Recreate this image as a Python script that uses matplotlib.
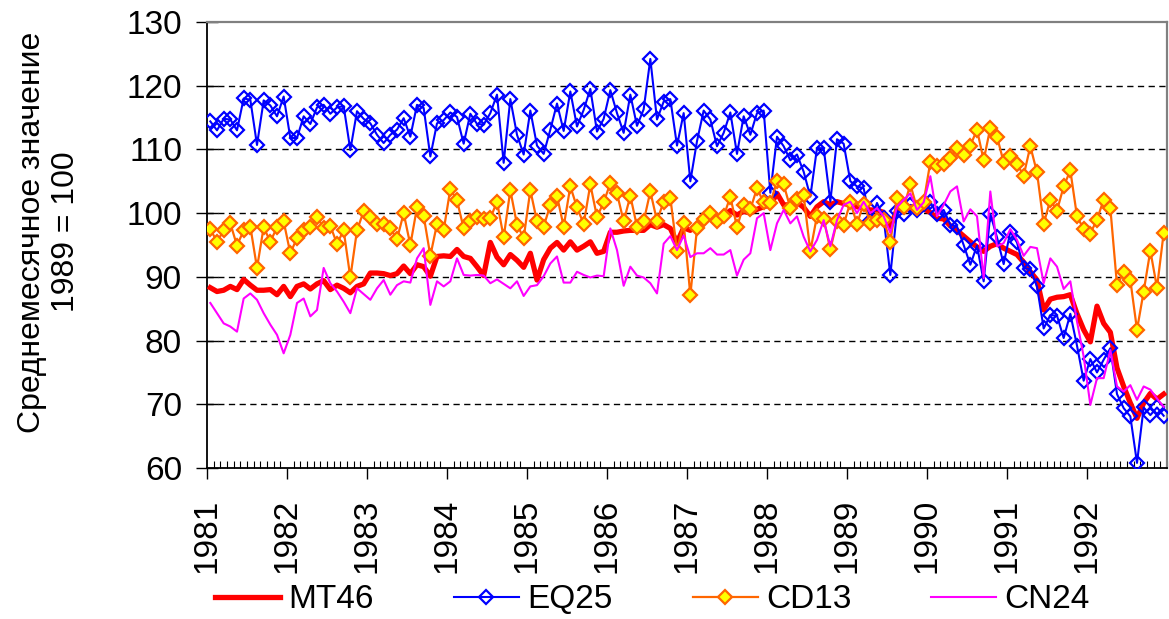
import matplotlib
matplotlib.use("Agg")
import matplotlib.pyplot as plt
import numpy as np

plt.rcParams['font.family'] = ['Liberation Sans', 'DejaVu Sans']

years = ["1981", "1982", "1983", "1984", "1985", "1986", "1987", "1988",
         "1989", "1990", "1991", "1992"]
y_ticks = [60, 70, 80, 90, 100, 110, 120, 130]

mt46 = [88.3, 87.7, 87.9, 88.5, 88.0, 89.6, 88.7, 87.9, 87.9, 88.0, 87.2, 88.5,
        86.9, 88.5, 88.9, 88.1, 88.9, 89.4, 88.0, 88.7, 88.2, 87.5, 88.5, 88.9,
        90.6, 90.6, 90.5, 90.2, 90.5, 91.7, 90.5, 91.9, 91.6, 90.1, 93.2, 93.3,
        93.2, 94.3, 93.2, 92.9, 91.6, 90.2, 95.4, 93.1, 91.9, 93.5, 92.6, 91.5,
        93.7, 89.5, 92.7, 94.5, 95.4, 94.2, 95.5, 94.2, 94.8, 95.5, 93.7, 94.0,
        97.0, 97.0, 97.2, 97.3, 97.3, 97.3, 98.2, 97.8, 98.2, 97.6, 95.4, 97.7,
        97.3, 98.3, 99.1, 99.7, 98.9, 99.6, 100.4, 99.7, 100.3, 100.0, 100.6, 101.0,
        101.3, 103.1, 101.3, 101.3, 101.7, 100.9, 99.5, 101.0, 101.8, 101.3, 101.8, 101.5,
        101.3, 101.0, 100.8, 100.5, 100.5, 100.1, 97.9, 100.5, 100.6, 101.0, 100.8, 100.7,
        100.1, 99.2, 99.1, 98.0, 97.3, 96.4, 95.5, 94.7, 94.0, 94.8, 95.2, 94.5,
        94.0, 93.5, 92.3, 90.8, 89.5, 84.8, 86.5, 86.8, 86.9, 87.2, 84.2, 81.7,
        79.8, 85.4, 82.7, 81.3, 75.7, 72.8, 70.2, 67.8, 70.2, 71.7, 70.8, 71.6]

eq25 = [114.4, 113.0, 114.8, 114.7, 113.0, 118.0, 117.8, 110.7, 117.7, 116.9, 115.2, 118.3,
        111.8, 111.8, 115.2, 114.0, 116.6, 117.0, 115.6, 116.6, 116.8, 109.9, 116.0, 114.8,
        114.1, 112.3, 111.0, 112.3, 113.1, 114.9, 112.0, 117.0, 116.5, 108.9, 114.1, 114.6,
        115.8, 115.1, 110.9, 115.6, 114.0, 113.9, 115.7, 118.6, 107.9, 117.9, 112.3, 109.2,
        116.1, 110.6, 109.3, 113.1, 117.2, 112.9, 119.1, 113.6, 116.2, 119.5, 112.8, 114.8,
        119.3, 115.7, 112.6, 118.6, 113.7, 116.3, 124.2, 114.7, 117.5, 117.9, 110.6, 115.7,
        105.0, 111.3, 116.1, 114.7, 110.5, 112.6, 115.8, 109.3, 115.2, 112.3, 115.7, 116.1,
        103.2, 112.0, 110.5, 108.3, 109.2, 106.5, 102.6, 110.2, 110.2, 101.8, 111.6, 110.9,
        105.0, 104.2, 103.9, 98.7, 101.6, 99.2, 90.3, 100.3, 99.9, 101.3, 100.5, 101.4,
        101.7, 99.9, 100.5, 98.2, 97.9, 95.0, 91.9, 94.9, 89.3, 99.9, 96.2, 92.0,
        97.1, 95.4, 91.4, 91.2, 88.5, 81.9, 84.0, 83.9, 80.4, 84.2, 79.2, 73.7,
        77.1, 75.0, 77.0, 78.8, 71.6, 69.4, 68.1, 60.8, 69.5, 68.3, 69.5, 68.2]

cd13 = [97.5, 95.5, 97.3, 98.4, 94.9, 97.3, 97.9, 91.4, 97.8, 95.5, 97.8, 98.7,
        93.7, 96.1, 97.4, 97.9, 99.4, 97.7, 98.0, 95.2, 97.3, 89.9, 97.3, 100.3,
        99.4, 98.3, 98.3, 97.6, 95.9, 100.0, 95.0, 100.9, 99.6, 93.3, 98.3, 97.3,
        103.8, 102.0, 97.6, 98.7, 99.4, 99.1, 99.2, 101.8, 96.2, 103.6, 98.2, 96.1,
        103.6, 98.7, 97.9, 101.3, 102.7, 97.9, 104.2, 100.9, 98.3, 104.5, 99.4, 101.7,
        104.7, 103.1, 98.7, 102.7, 97.9, 98.7, 103.4, 98.8, 101.8, 102.4, 94.1, 98.5,
        87.1, 97.6, 99.1, 100.0, 98.7, 99.5, 102.6, 97.8, 101.3, 100.6, 103.9, 101.7,
        101.6, 105.0, 104.5, 100.8, 102.2, 102.8, 94.0, 99.6, 99.1, 94.3, 98.7, 98.2,
        101.7, 98.3, 101.5, 98.5, 98.9, 98.9, 95.5, 102.4, 100.9, 104.5, 100.8, 101.8,
        108.0, 107.4, 107.7, 108.6, 110.2, 109.2, 110.6, 113.1, 108.3, 113.4, 112.0, 108.0,
        108.9, 107.7, 105.9, 110.5, 106.4, 98.3, 102.1, 100.4, 104.2, 106.7, 99.5, 97.5,
        96.8, 99.0, 102.1, 100.8, 88.7, 90.7, 89.5, 81.7, 87.7, 94.1, 88.3, 96.9]

cn24 = [85.9, 84.3, 82.7, 82.2, 81.4, 86.6, 87.4, 86.4, 84.3, 82.5, 80.9, 78.0,
        80.9, 85.9, 86.6, 83.8, 84.8, 91.4, 89.0, 87.7, 86.1, 84.3, 88.2, 87.3,
        86.4, 88.2, 89.5, 87.2, 88.7, 89.3, 89.1, 92.9, 94.5, 85.6, 89.3, 88.5,
        89.3, 92.9, 90.3, 90.2, 90.3, 90.2, 89.0, 89.6, 88.9, 88.2, 89.3, 87.0,
        88.5, 88.7, 90.1, 92.1, 93.2, 89.1, 89.1, 90.8, 90.3, 89.9, 90.2, 90.1,
        97.6, 94.2, 88.6, 91.6, 90.2, 89.9, 89.0, 87.4, 95.2, 96.4, 94.2, 96.5,
        93.1, 93.7, 93.7, 94.5, 93.5, 93.5, 94.2, 90.2, 92.7, 93.7, 99.2, 100.0,
        94.2, 98.4, 100.5, 98.4, 99.5, 96.3, 94.0, 95.8, 98.9, 94.8, 98.9, 101.3,
        101.8, 100.0, 101.8, 100.0, 100.8, 99.5, 96.9, 101.0, 102.1, 103.1, 100.5, 101.7,
        105.8, 99.5, 101.3, 103.4, 104.2, 98.7, 100.6, 99.5, 89.8, 103.4, 94.8, 95.3,
        97.5, 95.8, 93.3, 94.7, 94.5, 89.0, 92.9, 91.6, 88.1, 89.3, 83.0, 77.5,
        69.9, 74.1, 74.1, 78.5, 72.8, 72.0, 73.0, 70.7, 72.8, 72.3, 70.9, 69.6]

n = len(mt46)
x = np.arange(n) + 0.5

fig = plt.figure(figsize=(11.69, 6.19), dpi=100)
ax = fig.add_axes([207 / 1169, 1 - 468 / 619, (1167 - 207) / 1169, (468 - 22) / 619])

ax.plot(x, mt46, color='#FF0000', lw=3.8, label='MT46', zorder=3,
        solid_joinstyle='round')
ax.plot(x, eq25, color='#0000FF', lw=1.5, marker='D', ms=7, mfc='none',
        mec='#0000FF', mew=1.6, label='EQ25', zorder=4)
ax.plot(x, cd13, color='#FF6600', lw=1.6, marker='D', ms=7.5, mfc='#FFFF00',
        mec='#FF6600', mew=1.6, label='CD13', zorder=5)
ax.plot(x, cn24, color='#FF00FF', lw=1.5, label='CN24', zorder=6)

ax.set_xlim(0, n)
ax.set_ylim(60, 130)
ax.set_yticks(y_ticks)
ax.set_yticklabels([str(v) for v in y_ticks])
ax.set_xticks(np.arange(0, n, 12))
ax.set_xticklabels(years, rotation=90)
ax.set_xticks(np.arange(0, n + 1, 1), minor=True)

ax.tick_params(axis='y', which='major', direction='inout', length=16, width=1,
               labelsize=24, pad=10, colors='black')
ax.tick_params(axis='x', which='major', direction='out', length=8, width=1,
               labelsize=24, pad=14)
ax.tick_params(axis='x', which='minor', direction='in', length=5, width=0.8)

for yv in y_ticks[1:-1]:
    ax.axhline(yv, color='black', lw=1, linestyle=(0, (4.5, 3.2)), zorder=1)

for s in ['left', 'bottom']:
    ax.spines[s].set_color('black')
    ax.spines[s].set_linewidth(1.3)
for s in ['top', 'right']:
    ax.spines[s].set_color('#808080')
    ax.spines[s].set_linewidth(1.6)

fig.text(49 / 1169, 1 - 232 / 619, 'Среднемесячное значение\n1989 = 100',
         rotation=90, ha='center', va='center', multialignment='center',
         fontsize=23, linespacing=1.2)

leg = fig.legend(loc='center left', bbox_to_anchor=(215 / 1169, 1 - 600 / 619),
                 ncol=4, frameon=False, fontsize=24, handlelength=1.95,
                 handletextpad=0.25, columnspacing=2.4, borderpad=0,
                 borderaxespad=0, numpoints=1)

fig.savefig('out.png', dpi=100)
